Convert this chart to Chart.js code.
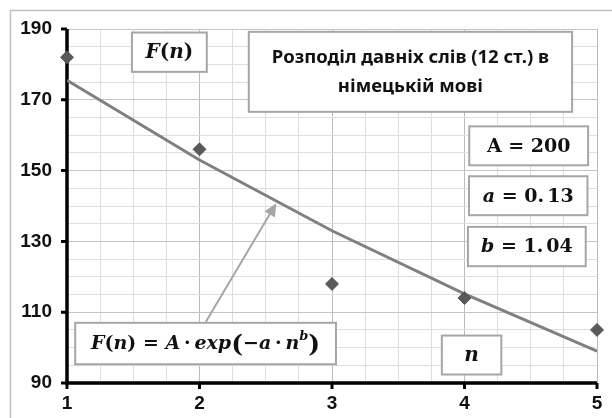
<!DOCTYPE html>
<html>
<head>
<meta charset="utf-8">
<script src="https://cdn.jsdelivr.net/npm/chart.js@4"></script>
<style>
    html, body { margin: 0; padding: 0; background: #fff; }
    canvas { display: block; }
</style>
</head>
<body>
<canvas id="chart" width="612" height="418"></canvas>
<script>
// word rank n and observed frequency
const ranks = [1, 2, 3, 4, 5];
const observed = [182, 156, 118, 114, 105];
// fitted curve F(n), values at each rank
const fitted = [175.5, 153, 133, 115.2, 99];

const xTickLabels = [1, 2, 3, 4, 5];
const yTickLabels = [90, 110, 130, 150, 170, 190];

const titleLines = ["Розподіл давніх слів (12 ст.) в", "німецькій мові"];

const SERIF = "'DejaVu Serif', 'Liberation Serif', serif";
const SANS = "Arial, 'Liberation Sans', sans-serif";

// text boxes placed in data units: [x0, x1, yTop, yBottom]
const notes = [
    { box: [1.49, 2.055, 189, 177.9], size: 20, runs: [
        { t: "F", it: true }, { t: "(" }, { t: "n", it: true }, { t: ")" },
    ] },
    { box: [4.036, 4.933, 162.5, 151.5], size: 19, runs: [
        { t: "A" }, { t: " = " }, { t: "200" },
    ] },
    { box: [4.034, 4.928, 148.4, 137.4], size: 19, runs: [
        { t: "a", it: true }, { t: " = " }, { t: "0." }, { t: "13", dx: 3 },
    ] },
    { box: [4.026, 4.915, 134.1, 123.0], size: 19, runs: [
        { t: "b", it: true }, { t: " = " }, { t: "1." }, { t: "04", dx: 3 },
    ] },
    { box: [1.062, 3.03, 107, 95.3], size: 18.5, runs: [
        { t: "F", it: true }, { t: "(" }, { t: "n", it: true }, { t: ")" },
        { t: " = " }, { t: "A", it: true }, { t: "\u2009·\u2009" },
        { t: "exp", it: true }, { t: "(", s: 1.35, dy: 1 }, { t: "−" },
        { t: "a", it: true }, { t: "\u2009·\u2009" }, { t: "n", it: true },
        { t: "b", it: true, s: 0.7, dy: -8 }, { t: ")", s: 1.35, dy: 1 },
    ] },
    { box: [3.829, 4.278, 103.4, 92.4], size: 20, runs: [
        { t: "n", it: true },
    ] },
];
const titleBox = [2.372, 4.812, 189.2, 166.6];
// arrow from the formula box up to the curve: [x, y] tail, [x, y] tip
const arrow = [[2.047, 107.2], [2.58, 140.8]];

const tickFont = { family: SANS, size: 19, weight: "bold" };

function runFont(r, size) {
    const px = Math.round(size * (r.s || 1));
    return (r.it ? "italic " : "") + "bold " + px + "px " + SERIF;
}

function drawRuns(ctx, runs, size, cx, cy) {
    let total = 0;
    runs.forEach((r) => {
        ctx.font = runFont(r, size);
        r.w = ctx.measureText(r.t).width + (r.dx || 0);
        total += r.w;
    });
    let x = cx - total / 2;
    ctx.textBaseline = "middle";
    ctx.textAlign = "left";
    ctx.fillStyle = "#111";
    runs.forEach((r) => {
        ctx.font = runFont(r, size);
        ctx.fillText(r.t, x + (r.dx || 0), cy + (r.dy || 0));
        x += r.w;
    });
}

function drawBox(ctx, x0, y0, x1, y1) {
    ctx.fillStyle = "#fff";
    ctx.fillRect(x0, y0, x1 - x0, y1 - y0);
    ctx.strokeStyle = "#a6a6a6";
    ctx.lineWidth = 2;
    ctx.strokeRect(x0, y0, x1 - x0, y1 - y0);
}

const framePlugin = {
    id: "frame",
    beforeDraw(chart) {
        const ctx = chart.ctx;
        ctx.save();
        ctx.fillStyle = "#fff";
        ctx.fillRect(0, 0, chart.width, chart.height);
        ctx.strokeStyle = "#bfbfbf";
        ctx.lineWidth = 1.5;
        ctx.beginPath();
        ctx.moveTo(10.5, chart.height + 5);
        ctx.lineTo(10.5, 10.5);
        ctx.lineTo(chart.width + 5, 10.5);
        ctx.stroke();
        ctx.restore();
    },
};

// thick black axes with outward tick marks
const axesPlugin = {
    id: "axes",
    beforeDatasetsDraw(chart) {
        const { ctx, chartArea: a, scales } = chart;
        ctx.save();
        ctx.strokeStyle = "#000";
        ctx.lineWidth = 3.5;
        ctx.beginPath();
        ctx.moveTo(a.left, a.top);
        ctx.lineTo(a.left, a.bottom);
        ctx.lineTo(a.right, a.bottom);
        ctx.stroke();
        ctx.lineWidth = 3;
        ctx.beginPath();
        yTickLabels.forEach((v) => {
            const y = scales.y.getPixelForValue(v);
            ctx.moveTo(a.left - 6, y);
            ctx.lineTo(a.left, y);
        });
        xTickLabels.forEach((v) => {
            const x = scales.x.getPixelForValue(v);
            ctx.moveTo(x, a.bottom);
            ctx.lineTo(x, a.bottom + 6);
        });
        ctx.stroke();
        ctx.restore();
    },
};

const notesPlugin = {
    id: "notes",
    afterDatasetsDraw(chart) {
        const { ctx, scales } = chart;
        const px = (v) => scales.x.getPixelForValue(v);
        const py = (v) => scales.y.getPixelForValue(v);
        ctx.save();

        // arrow
        const [tx, ty] = [px(arrow[0][0]), py(arrow[0][1])];
        const [hx, hy] = [px(arrow[1][0]), py(arrow[1][1])];
        const ang = Math.atan2(hy - ty, hx - tx);
        const headLen = 13, headW = 6;
        const bx = hx - headLen * Math.cos(ang);
        const by = hy - headLen * Math.sin(ang);
        ctx.strokeStyle = "#a6a6a6";
        ctx.fillStyle = "#a6a6a6";
        ctx.lineWidth = 2;
        ctx.beginPath();
        ctx.moveTo(tx, ty);
        ctx.lineTo(bx, by);
        ctx.stroke();
        ctx.beginPath();
        ctx.moveTo(hx, hy);
        ctx.lineTo(bx + headW * Math.sin(ang), by - headW * Math.cos(ang));
        ctx.lineTo(bx - headW * Math.sin(ang), by + headW * Math.cos(ang));
        ctx.closePath();
        ctx.fill();

        // title box
        const t0 = px(titleBox[0]), t1 = px(titleBox[1]);
        const u0 = py(titleBox[2]), u1 = py(titleBox[3]);
        drawBox(ctx, t0, u0, t1, u1);
        ctx.fillStyle = "#111";
        ctx.font = "bold 18.5px 'Noto Sans', 'Open Sans', sans-serif";
        ctx.textAlign = "center";
        ctx.textBaseline = "middle";
        const mid = (t0 + t1) / 2, cy = (u0 + u1) / 2;
        ctx.fillText(titleLines[0], mid, cy - 14);
        ctx.fillText(titleLines[1], mid, cy + 15);

        // formula and parameter boxes
        notes.forEach((n) => {
            const x0 = px(n.box[0]), x1 = px(n.box[1]);
            const y0 = py(n.box[2]), y1 = py(n.box[3]);
            drawBox(ctx, x0, y0, x1, y1);
            drawRuns(ctx, n.runs, n.size, (x0 + x1) / 2, (y0 + y1) / 2 + 1);
        });
        ctx.restore();
    },
};

new Chart(document.getElementById("chart"), {
    type: "scatter",
    data: {
        datasets: [
            {
                label: "observed",
                data: ranks.map((n, i) => ({ x: n, y: observed[i] })),
                pointStyle: "rectRot",
                pointRadius: 6.5,
                backgroundColor: "#595959",
                borderColor: "#595959",
                borderWidth: 1,
                clip: false,
                order: 0,
            },
            {
                label: "F(n)",
                data: ranks.map((n, i) => ({ x: n, y: fitted[i] })),
                showLine: true,
                pointRadius: 0,
                borderColor: "#808080",
                borderWidth: 3,
                tension: 0,
                order: 1,
            },
        ],
    },
    options: {
        responsive: false,
        animation: false,
        layout: { padding: { top: 29, right: 15, bottom: 0, left: 0 } },
        plugins: {
            legend: { display: false },
            tooltip: { enabled: false },
        },
        scales: {
            x: {
                type: "linear",
                min: 1,
                max: 5,
                afterFit: (s) => { s.height = 35; },
                ticks: {
                    stepSize: 0.25,
                    autoSkip: false,
                    maxRotation: 0,
                    padding: 9,
                    color: "#111",
                    font: tickFont,
                    callback: (v) => (xTickLabels.includes(v) ? String(v) : ""),
                },
                grid: {
                    drawTicks: false,
                    color: (c) => (Number.isInteger(c.tick.value) ? "#bcbcbc" : "#dedede"),
                    lineWidth: 1,
                },
                border: { display: false },
            },
            y: {
                min: 90,
                max: 190,
                afterFit: (s) => { s.width = 67; },
                ticks: {
                    stepSize: 5,
                    autoSkip: false,
                    padding: 15,
                    color: "#111",
                    font: tickFont,
                    callback: (v) => (yTickLabels.includes(v) ? String(v) : ""),
                },
                grid: {
                    drawTicks: false,
                    color: (c) => (yTickLabels.includes(c.tick.value) ? "#c4c4c4" : "#dedede"),
                    lineWidth: 1,
                },
                border: { display: false },
            },
        },
    },
    plugins: [framePlugin, axesPlugin, notesPlugin],
});
</script>
</body>
</html>
